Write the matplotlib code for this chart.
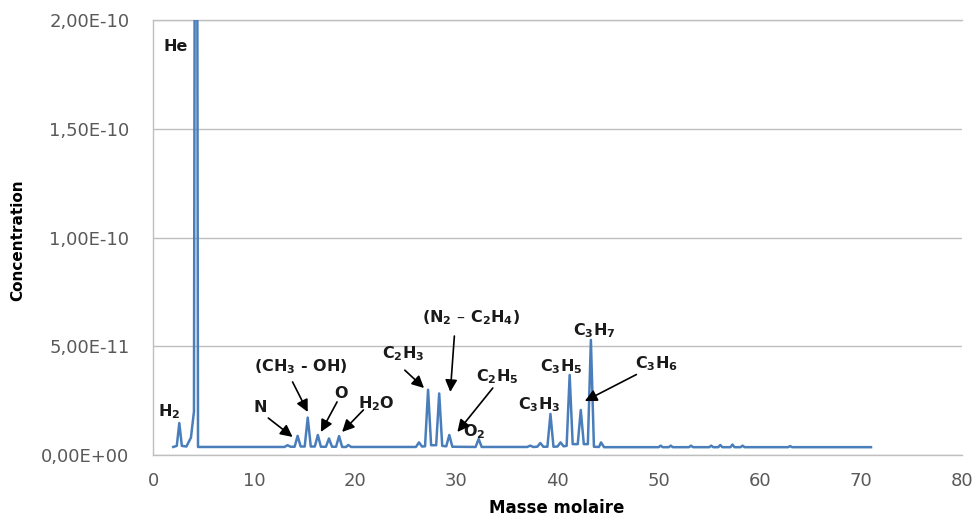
import matplotlib
matplotlib.use('Agg')
import matplotlib.pyplot as plt

plt.rcParams['font.family'] = ['DejaVu Sans']
plt.rcParams['mathtext.default'] = 'regular'

# spectrum (masse molaire, concentration)
masse = [2.0, 2.35, 2.6, 2.85, 3.3, 3.75, 4.05, 4.25, 4.45,
         13.0, 13.3, 13.6, 14.0, 14.3, 14.6, 15.0, 15.3, 15.6,
         16.0, 16.3, 16.6, 17.1, 17.4, 17.7, 18.1, 18.4, 18.7,
         19.1, 19.3, 19.6,
         26.0, 26.3, 26.6, 26.9, 27.2, 27.5, 28.0, 28.3, 28.6,
         29.0, 29.3, 29.6, 31.9, 32.2, 32.5,
         37.0, 37.3, 37.6, 38.0, 38.3, 38.6, 39.0, 39.3, 39.6,
         40.0, 40.3, 40.6, 40.9, 41.2, 41.5, 42.0, 42.3, 42.6,
         43.0, 43.3, 43.6, 44.1, 44.3, 44.6,
         50.0, 50.2, 50.4, 51.0, 51.2, 51.4, 53.0, 53.2, 53.4,
         55.0, 55.2, 55.4, 55.9, 56.1, 56.3, 57.1, 57.3, 57.5,
         58.1, 58.3, 58.5, 62.8, 63.0, 63.2, 71.0]
concentration = [3.7e-12, 4.2e-12, 1.47e-11, 4.2e-12, 3.9e-12, 8e-12, 2.0e-11, 6e-10, 3.7e-12,
                 3.7e-12, 4.5e-12, 3.8e-12, 3.8e-12, 8.8e-12, 3.9e-12, 3.9e-12, 1.72e-11, 3.9e-12,
                 3.9e-12, 9.2e-12, 3.8e-12, 3.8e-12, 7.6e-12, 3.8e-12, 3.8e-12, 8.7e-12, 3.7e-12,
                 3.7e-12, 4.6e-12, 3.7e-12,
                 3.7e-12, 5.8e-12, 3.9e-12, 4.0e-12, 3.0e-11, 4.5e-12, 4.5e-12, 2.83e-11, 4.2e-12,
                 4.0e-12, 9.2e-12, 3.8e-12, 3.7e-12, 7.4e-12, 3.7e-12,
                 3.7e-12, 4.3e-12, 3.7e-12, 3.8e-12, 5.5e-12, 3.8e-12, 3.8e-12, 1.89e-11, 3.8e-12,
                 3.9e-12, 5.8e-12, 4.0e-12, 4.2e-12, 3.68e-11, 5.0e-12, 5.0e-12, 2.07e-11, 5.0e-12,
                 5.0e-12, 5.29e-11, 3.8e-12, 3.7e-12, 5.8e-12, 3.6e-12,
                 3.6e-12, 4.3e-12, 3.6e-12, 3.6e-12, 4.3e-12, 3.6e-12, 3.6e-12, 4.3e-12, 3.6e-12,
                 3.6e-12, 4.3e-12, 3.6e-12, 3.6e-12, 4.6e-12, 3.6e-12, 3.6e-12, 4.8e-12, 3.6e-12,
                 3.6e-12, 4.3e-12, 3.6e-12, 3.6e-12, 4.1e-12, 3.6e-12, 3.6e-12]

x_ticks = [0, 10, 20, 30, 40, 50, 60, 70, 80]
y_ticks = [0, 5e-11, 1e-10, 1.5e-10, 2e-10]
y_tick_labels = ['0,00E+00', '5,00E-11', '1,00E-10', '1,50E-10', '2,00E-10']

# labels: (text, x, y)
labels = [('He', 2.2, 1.876e-10), ('H$_2$', 1.6, 2.0e-11), ('N', 10.6, 2.2e-11),
          ('(CH$_3$ - OH)', 14.6, 4.05e-11), ('O', 18.6, 2.85e-11), ('H$_2$O', 22.1, 2.35e-11),
          ('C$_2$H$_3$', 24.7, 4.64e-11), ('(N$_2$ \u2013 C$_2$H$_4$)', 31.4, 6.3e-11),
          ('C$_2$H$_5$', 34.0, 3.59e-11), ('O$_2$', 31.8, 1.06e-11),
          ('C$_3$H$_3$', 38.2, 2.3e-11), ('C$_3$H$_5$', 40.4, 4.05e-11),
          ('C$_3$H$_7$', 43.6, 5.7e-11), ('C$_3$H$_6$', 49.8, 4.2e-11)]

# arrows: (tail x, tail y, head x, head y)
arrows = [(11.4, 1.7e-11, 13.8, 8.3e-12), (13.8, 3.36e-11, 15.3, 1.98e-11),
          (18.2, 2.44e-11, 16.6, 1.06e-11), (20.8, 2.07e-11, 18.7, 1.06e-11),
          (24.9, 3.9e-11, 26.8, 3.08e-11), (29.8, 5.47e-11, 29.4, 2.9e-11),
          (33.6, 3.08e-11, 30.1, 1.06e-11), (47.8, 3.7e-11, 42.7, 2.48e-11)]

fig = plt.figure(figsize=(9.74, 5.18), dpi=100)
ax = fig.add_axes([0.1571, 0.1216, 0.8306, 0.8398])

ax.plot(masse, concentration, color='#4A7EBB', lw=1.8, solid_joinstyle='round', zorder=3)

ax.set_xlim(0, 80)
ax.set_ylim(0, 2e-10)
ax.set_xticks(x_ticks)
ax.set_yticks(y_ticks)
ax.set_yticklabels(y_tick_labels)
ax.tick_params(axis='both', length=0, labelsize=13, labelcolor='#595959')
ax.tick_params(axis='y', pad=17)
ax.tick_params(axis='x', pad=12)
ax.grid(axis='y', color='#BFBFBF', lw=1.0)
ax.set_axisbelow(True)
ax.spines['right'].set_visible(False)
for s in ['left', 'bottom', 'top']:
    ax.spines[s].set_color('#BFBFBF')
    ax.spines[s].set_linewidth(1.0)

for txt, x, y in labels:
    ax.text(x, y, txt, ha='center', va='center', fontsize=11.5, fontweight='bold',
            color='#1a1a1a', zorder=4)

for x0, y0, x1, y1 in arrows:
    ax.annotate('', xy=(x1, y1), xytext=(x0, y0),
                arrowprops=dict(arrowstyle='-|>', color='black', lw=1.2,
                                mutation_scale=18, shrinkA=0, shrinkB=0), zorder=4)

fig.text(18 / 974, 1 - 240 / 518, 'Concentration', rotation=90, ha='center', va='center',
         fontsize=11, fontweight='bold')
fig.text(557 / 974, 1 - 508 / 518, 'Masse molaire', ha='center', va='center',
         fontsize=12, fontweight='bold')

fig.savefig('out.png', dpi=100)
